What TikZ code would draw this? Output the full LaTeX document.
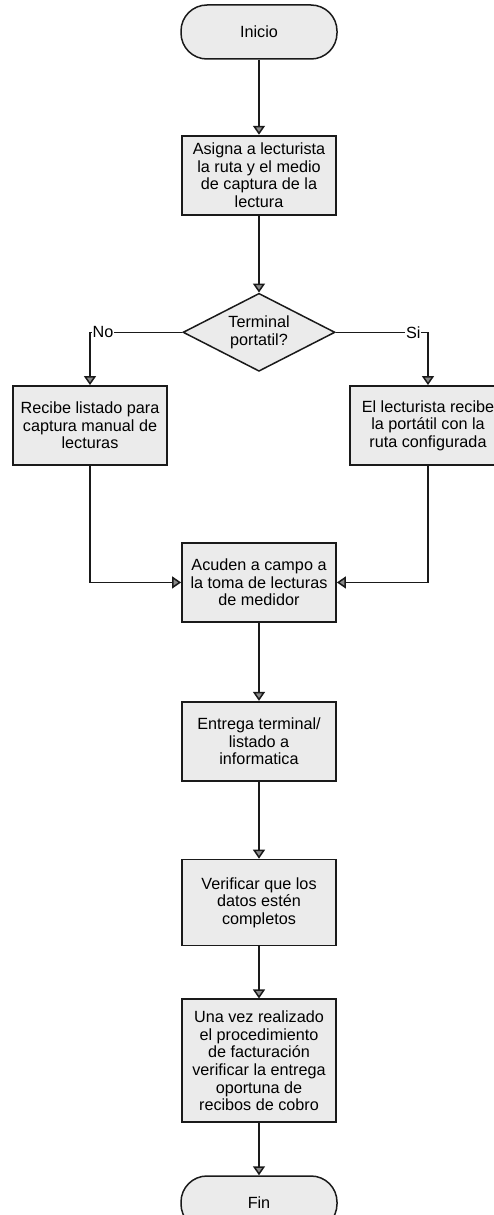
\documentclass[tikz,border=0pt]{standalone}
\usepackage{fontspec}
\setmainfont{Liberation Sans}
\usetikzlibrary{shapes.geometric, arrows.meta, positioning}
\definecolor{boxfill}{HTML}{EBEBEB}
\definecolor{linecol}{HTML}{1A1A1A}
\definecolor{tipfill}{HTML}{8A8A8A}

\begin{document}
\begin{tikzpicture}[
  x=1pt, y=1pt,
  node distance=75pt,
  font=\fontsize{16.2}{17.6}\selectfont,
  term/.style={rectangle, rounded corners=26pt, draw=linecol, line width=1.5pt, fill=boxfill, minimum width=156pt, minimum height=54pt},
  proc/.style={rectangle, draw=linecol, line width=1.8pt, fill=boxfill, minimum width=154pt, minimum height=79pt, align=center, inner sep=2pt},
  decision/.style={diamond, draw=linecol, line width=1.5pt, fill=boxfill, minimum width=152pt, minimum height=78pt, aspect=2, align=center, inner sep=0pt},
  arrow/.style={-{Triangle[width=12pt, length=9pt, fill=tipfill]}, draw=linecol, line width=1.5pt},
  lbl/.style={fill=white, inner sep=1pt}
]
  \useasboundingbox (0,0) rectangle (494,-1215);

  \node[term] (inicio) at (259,-32) {Inicio};
  \node[proc, below=75pt of inicio] (asigna) {Asigna a lecturista\\la ruta y el medio\\de captura de la\\lectura};
  \node[decision, below=77pt of asigna] (pregunta) {Terminal\\portatil?};

  \node[proc, below=13pt of pregunta, xshift=-169pt] (manual) {Recibe listado para\\captura manual de\\lecturas};
  \node[proc, below=13pt of pregunta, xshift=169pt, minimum width=156pt] (portatil) {El lecturista recibe\\la portátil con la\\ruta configurada};

  \node[proc, below=170pt of pregunta] (acuden) {Acuden a campo a\\la toma de lecturas\\de medidor};
  \node[proc, below=78pt of acuden] (entrega) {Entrega terminal/\\listado a\\informatica};
  \node[proc, below=77pt of entrega, minimum height=86pt] (verificar) {Verificar que los\\datos estén\\completos};
  \node[proc, below=52pt of verificar, minimum height=123pt] (facturacion) {Una vez realizado\\el procedimiento\\de facturación\\verificar la entrega\\oportuna de\\recibos de cobro};
  \node[term, below=52pt of facturacion] (fin) {Fin};

  \draw[arrow] (inicio) -- (asigna);
  \draw[arrow] (asigna) -- (pregunta);
  \draw[arrow] (pregunta.west) -| node[lbl, pos=0.43] {No} (manual.north);
  \draw[arrow] (pregunta.east) -| node[lbl, pos=0.42] {Si} (portatil.north);
  \draw[arrow] (manual.south) |- (acuden.west);
  \draw[arrow] (portatil.south) |- (acuden.east);
  \draw[arrow] (acuden) -- (entrega);
  \draw[arrow] (entrega) -- (verificar);
  \draw[arrow] (verificar) -- (facturacion);
  \draw[arrow] (facturacion) -- (fin);
\end{tikzpicture}
\end{document}
